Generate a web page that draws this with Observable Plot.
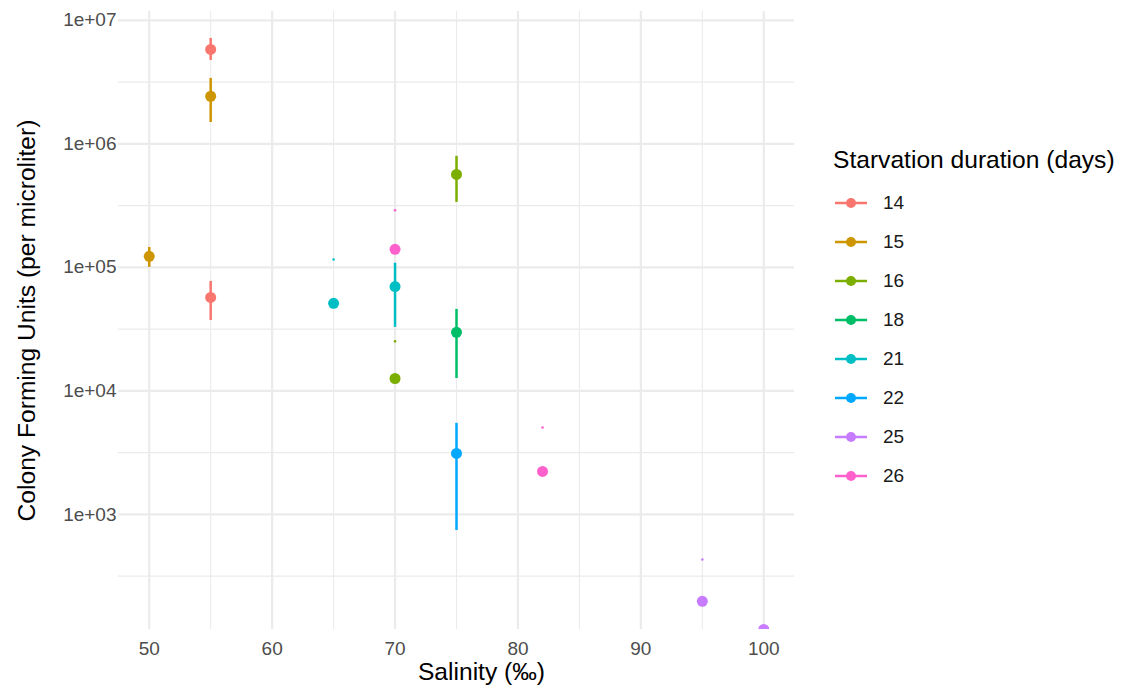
<!DOCTYPE html>
<html>
<head>
<meta charset="utf-8">
<script src="https://cdn.jsdelivr.net/npm/d3@7"></script>
<script src="https://cdn.jsdelivr.net/npm/@observablehq/plot@0.6"></script>
<style>
  body { margin: 0; background: #fff; font-family: "Liberation Sans", Arial, Helvetica, sans-serif; }
  #wrap { position: relative; width: 1121px; height: 690px; }
  #legend { position: absolute; left: 833px; top: 145px; }
  #legend .title { font-size: 24.6px; line-height: 30px; color: #000; white-space: nowrap; margin-bottom: 8px; }
  #legend .row { display: flex; align-items: center; height: 39px; margin-left: 1px; }
  #legend .row span { font-size: 19px; color: #1a1a1a; margin-left: 15px; }
</style>
</head>
<body>
<div id="wrap"><div id="chart"></div><div id="legend"></div></div>
<script>
// Legend categories and colours
const durations = [14, 15, 16, 18, 21, 22, 25, 26];
const colors = ["#F8766D", "#CD9600", "#7CAE00", "#00BE67", "#00BFC4", "#00A9FF", "#C77CFF", "#FF61CC"];

// Series values (one entry per point)
const salinity = [55, 55, 50, 55, 65, 70, 70, 70, 75, 75, 75, 82, 95, 100];
const duration = [14, 15, 15, 14, 21, 26, 21, 16, 16, 18, 22, 26, 25, 25];
const cfu      = [5.82e6, 2.43e6, 1.23e5, 5.71e4, 5.12e4, 1.40e5, 7.0e4, 1.26e4, 5.66e5, 2.98e4, 3.12e3, 2.23e3, 198, 117];
const upper    = [7.14e6, 3.39e6, 1.45e5, 7.7e4, 1.16e5, 2.9e5, 1.08e5, 2.52e4, 7.93e5, 4.57e4, 5.46e3, 5.06e3, 432, null];
const lower    = [4.74e6, 1.49e6, 1.0e5, 3.72e4, null, null, 3.27e4, null, 3.36e5, 1.26e4, 741, null, null, null];

// Tick values
const xMajor = [50, 60, 70, 80, 90, 100];
const xMinor = [55, 65, 75, 85, 95];
const yMajor = [1e3, 1e4, 1e5, 1e6, 1e7];
const yMajorLabels = ["1e+03", "1e+04", "1e+05", "1e+06", "1e+07"];
const yMinor = [316.23, 3162.3, 31623, 316228, 3162278];

const xTitle = "Salinity (‰)";
const yTitle = "Colony Forming Units (per microliter)";
const legendTitle = "Starvation duration (days)";

const rows = salinity.map((s, i) => ({salinity: s, duration: duration[i], cfu: cfu[i], upper: upper[i], lower: lower[i]}));
const grid = "#EBEBEB";

const chart = Plot.plot({
  width: 1121,
  height: 690,
  marginLeft: 118,
  marginRight: 327,
  marginTop: 11,
  marginBottom: 61,
  style: {fontFamily: "Liberation Sans, Arial, Helvetica, sans-serif", background: "#fff"},
  x: {domain: [47.5, 102.5]},
  y: {type: "log", domain: [117, 1.18e7]},
  color: {type: "ordinal", domain: durations, range: colors},
  marks: [
    Plot.ruleX(xMinor, {stroke: grid, strokeWidth: 1.1}),
    Plot.ruleY(yMinor, {stroke: grid, strokeWidth: 1.1}),
    Plot.ruleX(xMajor, {stroke: grid, strokeWidth: 2.2}),
    Plot.ruleY(yMajor, {stroke: grid, strokeWidth: 2.2}),
    Plot.axisX({ticks: xMajor, tickSize: 0, tickPadding: 12, fontSize: 19, fill: "#4D4D4D", label: null}),
    Plot.axisY({ticks: yMajor, tickSize: 0, tickPadding: 2, fontSize: 19, fill: "#4D4D4D", label: null,
      tickFormat: d => yMajorLabels[yMajor.indexOf(d)]}),
    Plot.ruleX(rows.filter(d => d.lower != null), {x: "salinity", y1: "lower", y2: "upper", stroke: "duration", strokeWidth: 2.5}),
    Plot.dot(rows, {x: "salinity", y: "cfu", fill: "duration", r: 5.5, clip: true}),
    Plot.dot(rows.filter(d => d.lower == null && d.upper != null), {x: "salinity", y: "upper", fill: "duration", r: 1.3}),
    Plot.text([xTitle], {text: d => d, frameAnchor: "bottom", textAnchor: "middle", dx: 25, dy: 43, fontSize: 24.6, fill: "#000", lineAnchor: "middle"}),
    Plot.text([yTitle], {text: d => d, frameAnchor: "left", textAnchor: "middle", rotate: -90, dx: -91, fontSize: 24.6, fill: "#000", lineAnchor: "middle"})
  ]
});
document.getElementById("chart").appendChild(chart);

// Legend (line + point keys, as in the reference)
const legend = d3.select("#legend");
legend.append("div").attr("class", "title").text(legendTitle);
durations.forEach((d, i) => {
  const row = legend.append("div").attr("class", "row");
  const svg = row.append("svg").attr("width", 34).attr("height", 20);
  svg.append("line").attr("x1", 1).attr("x2", 33).attr("y1", 10).attr("y2", 10)
    .attr("stroke", colors[i]).attr("stroke-width", 2.5);
  svg.append("circle").attr("cx", 17).attr("cy", 10).attr("r", 5).attr("fill", colors[i]);
  row.append("span").text(d);
});
</script>
</body>
</html>
